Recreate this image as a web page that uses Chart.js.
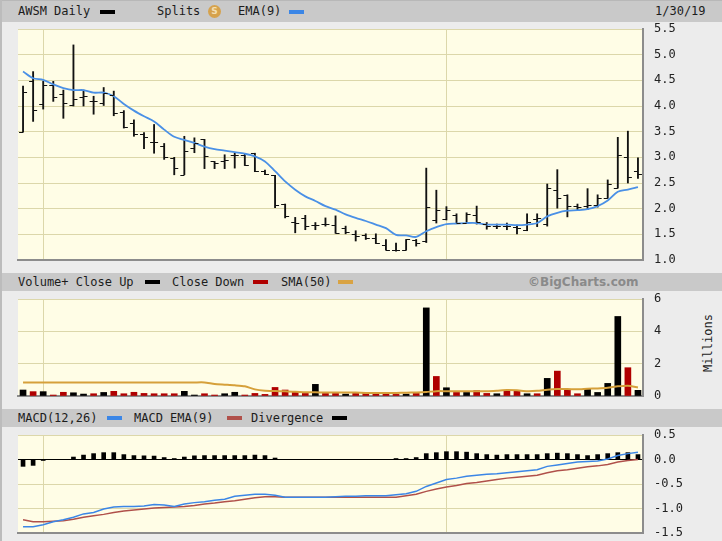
<!DOCTYPE html>
<html lang="en">
  <head>
    <meta charset="UTF-8" />
    <title>AWSM Daily</title>
    <script src="https://cdn.jsdelivr.net/npm/chart.js"></script>
    <style>
      body {
        margin: 0;
        width: 722px;
        height: 541px;
        position: relative;
        overflow: hidden;
        background: #ececec;
        font-family: "DejaVu Sans Mono", monospace;
      }
      .bar {
        position: absolute;
        left: 0;
        width: 722px;
        background: #c9c9c9;
      }
      .lbl {
        position: absolute;
        font-size: 12px;
        color: #1c1c1c;
        white-space: pre;
      }
      .sw {
        position: absolute;
        width: 15px;
        height: 4px;
      }
      canvas {
        position: absolute;
        left: 0;
      }
    </style>
  </head>
  <body>
    <div class="bar" style="top: 0; height: 21px; border-top: 1px solid #b8b8b8">
      <span class="lbl" style="left: 18px; top: 3px">AWSM Daily</span>
      <span class="sw" style="left: 100px; top: 9px; background: #000"></span>
      <span class="lbl" style="left: 157px; top: 3px">Splits</span>
      <span
        style="position: absolute; left: 208px; top: 4px; width: 13px; height: 13px; border-radius: 50%; background: #d6a24c; color: #f3dfb2; font: bold 9px 'DejaVu Sans'; text-align: center; line-height: 13px"
        >S</span
      >
      <span class="lbl" style="left: 238px; top: 3px">EMA(9)</span>
      <span class="sw" style="left: 289px; top: 9px; background: #3b86e6"></span>
      <span class="lbl" style="left: 655px; top: 3px">1/30/19</span>
    </div>

    <div class="bar" style="top: 273px; height: 18px">
      <span class="lbl" style="left: 18px; top: 2px">Volume+ Close Up</span>
      <span class="sw" style="left: 145px; top: 7px; background: #000"></span>
      <span class="lbl" style="left: 172px; top: 2px">Close Down</span>
      <span class="sw" style="left: 253px; top: 7px; background: #b00000"></span>
      <span class="lbl" style="left: 281px; top: 2px">SMA(50)</span>
      <span class="sw" style="left: 338px; top: 7px; background: #d9a343"></span>
      <span
        style="position: absolute; left: 528px; top: 2px; font: bold 12px 'DejaVu Sans'; color: #8a8a8a"
        >©BigCharts.com</span
      >
    </div>

    <div class="bar" style="top: 409px; height: 18px">
      <span class="lbl" style="left: 18px; top: 2px">MACD(12,26)</span>
      <span class="sw" style="left: 107px; top: 7px; background: #3b86e6"></span>
      <span class="lbl" style="left: 134px; top: 2px">MACD EMA(9)</span>
      <span class="sw" style="left: 227px; top: 7px; background: #b0504a"></span>
      <span class="lbl" style="left: 251px; top: 2px">Divergence</span>
      <span class="sw" style="left: 332px; top: 7px; background: #000"></span>
    </div>

    <!-- thin frame on the left edge -->
    <div style="position: absolute; left: 0; top: 0; width: 2px; height: 541px; background: #bcbcbc"></div>

    <span
      class="lbl"
      style="left: 679px; top: 336px; width: 58px; text-align: center; transform: rotate(-90deg)"
      >Millions</span
    >

    <canvas id="price" width="722" height="260" style="top: 14px"></canvas>
    <canvas id="volume" width="722" height="113" style="top: 291px"></canvas>
    <canvas id="macd" width="722" height="114" style="top: 427px"></canvas>

    <script>
      // trading days shown (10/30/18 .. 1/30/19)
      const dates = [
        "10/30/18", "10/31/18",
        "11/1/18", "11/2/18", "11/5/18", "11/6/18", "11/7/18", "11/8/18", "11/9/18",
        "11/12/18", "11/13/18", "11/14/18", "11/15/18", "11/16/18", "11/19/18", "11/20/18",
        "11/21/18", "11/23/18", "11/26/18", "11/27/18", "11/28/18", "11/29/18", "11/30/18",
        "12/3/18", "12/4/18", "12/6/18", "12/7/18", "12/10/18", "12/11/18", "12/12/18",
        "12/13/18", "12/14/18", "12/17/18", "12/18/18", "12/19/18", "12/20/18", "12/21/18",
        "12/24/18", "12/26/18", "12/27/18", "12/28/18", "12/31/18",
        "1/2/19", "1/3/19", "1/4/19", "1/7/19", "1/8/19", "1/9/19", "1/10/19", "1/11/19",
        "1/14/19", "1/15/19", "1/16/19", "1/17/19", "1/18/19", "1/22/19", "1/23/19",
        "1/24/19", "1/25/19", "1/28/19", "1/29/19", "1/30/19",
      ];
      const gridDates = ["11/1/18", "1/2/19"];

      const openPrice = [
        3.49, 4.48, 4.04, 4.4, 4.23, 4.01, 4.18, 4.09, 4.06, 4.22, 3.88, 3.67, 3.45, 3.3, 3.22, 2.98,
        2.66, 3.18, 3.35, 2.92, 2.92, 3.05, 3.05, 3.08, 2.73, 2.65, 2.09, 1.75, 1.82, 1.69, 1.7,
        1.69, 1.62, 1.51, 1.48, 1.43, 1.3, 1.2, 1.19, 1.38, 1.37, 1.78, 1.8, 1.87, 1.73, 1.88,
        1.7, 1.66, 1.67, 1.64, 1.59, 1.8, 1.71, 2.37, 2.26, 2.05, 2.05, 2.08, 2.21, 2.41, 3.0, 2.73,
      ];
      const highPrice = [
        4.39, 4.67, 4.48, 4.48, 4.31, 5.19, 4.31, 4.19, 4.36, 4.29, 3.91, 3.73, 3.48, 3.64, 3.27, 3.0,
        3.41, 3.38, 3.35, 2.92, 3.05, 3.08, 3.07, 3.08, 2.75, 2.65, 2.09, 1.83, 1.87, 1.73, 1.82,
        1.86, 1.66, 1.57, 1.51, 1.51, 1.4, 1.33, 1.4, 1.4, 2.79, 2.36, 2.04, 1.9, 1.92, 2.05,
        1.73, 1.7, 1.72, 1.68, 1.9, 1.9, 2.48, 2.76, 2.27, 2.09, 2.39, 2.27, 2.56, 3.39, 3.51, 2.99,
      ];
      const lowPrice = [
        3.49, 3.7, 3.94, 4.09, 3.76, 4.0, 4.0, 3.84, 4.01, 3.81, 3.57, 3.41, 3.17, 3.08, 2.96, 2.66,
        2.66, 3.09, 2.78, 2.78, 2.78, 2.79, 2.84, 2.72, 2.66, 2.02, 1.82, 1.53, 1.59, 1.59, 1.66,
        1.52, 1.51, 1.37, 1.4, 1.32, 1.19, 1.17, 1.19, 1.27, 1.34, 1.72, 1.78, 1.71, 1.71, 1.7,
        1.6, 1.61, 1.59, 1.51, 1.57, 1.65, 1.66, 2.01, 1.84, 1.98, 1.98, 2.03, 2.2, 2.4, 2.5, 2.59,
      ];
      const closePrice = [
        4.28, 3.93, 4.41, 4.18, 4.06, 4.14, 4.2, 4.1, 4.25, 3.86, 3.6, 3.45, 3.4, 3.3, 3.0, 2.8,
        3.13, 3.28, 3.02, 2.89, 2.95, 3.05, 2.86, 2.73, 2.68, 2.07, 1.85, 1.72, 1.66, 1.69, 1.7,
        1.53, 1.54, 1.46, 1.43, 1.34, 1.2, 1.2, 1.4, 1.34, 2.04, 1.98, 1.98, 1.73, 1.9, 1.74,
        1.66, 1.66, 1.67, 1.62, 1.74, 1.82, 2.4, 2.21, 2.05, 2.03, 2.08, 2.21, 2.48, 3.04, 2.61, 2.67,
      ];
      const ema9 = [
        4.67, 4.54, 4.51, 4.42, 4.35, 4.31, 4.31, 4.26, 4.26, 4.19, 4.04, 3.91, 3.8, 3.7, 3.54, 3.4,
        3.34, 3.28, 3.21, 3.16, 3.13, 3.1, 3.07, 3.02, 2.92, 2.73, 2.53, 2.37, 2.24, 2.15, 2.05,
        1.98, 1.89, 1.82, 1.76, 1.69, 1.62, 1.49, 1.48, 1.45, 1.56, 1.64, 1.7, 1.71, 1.72, 1.72,
        1.69, 1.69, 1.69, 1.68, 1.69, 1.72, 1.85, 1.92, 1.96, 1.97, 1.99, 2.05, 2.16, 2.33, 2.37, 2.42,
      ];

      // volume in millions, 1 = close up (black), 0 = close down (red)
      const volume = [
        0.37, 0.27, 0.27, 0.06, 0.23, 0.2, 0.12, 0.14, 0.22, 0.29, 0.14, 0.23, 0.16, 0.14, 0.14, 0.14,
        0.29, 0.06, 0.14, 0.06, 0.14, 0.23, 0.06, 0.16, 0.1, 0.53, 0.37, 0.23, 0.16, 0.72, 0.16,
        0.16, 0.12, 0.16, 0.16, 0.16, 0.16, 0.1, 0.12, 0.16, 5.45, 1.21, 0.51, 0.22, 0.22, 0.33,
        0.16, 0.14, 0.29, 0.29, 0.14, 0.14, 1.09, 1.54, 0.41, 0.14, 0.41, 0.22, 0.78, 4.92, 1.75, 0.35,
      ];
      const closeUp = [
        1, 0, 1, 0, 0, 1, 1, 0, 1, 0, 0, 0, 0, 0, 0, 0,
        1, 1, 0, 0, 1, 1, 0, 0, 0, 0, 0, 0, 0, 1, 0,
        0, 1, 0, 0, 0, 0, 0, 1, 0, 1, 0, 1, 0, 1, 0,
        0, 1, 0, 0, 1, 0, 1, 0, 0, 0, 1, 1, 1, 1, 0, 1,
      ];
      const volumeSma50 = [
        0.84, 0.84, 0.84, 0.84, 0.84, 0.84, 0.84, 0.84, 0.84, 0.84, 0.84, 0.84, 0.84, 0.84, 0.84, 0.84,
        0.84, 0.84, 0.84, 0.74, 0.7, 0.66, 0.6, 0.41, 0.33, 0.31, 0.29, 0.27, 0.23, 0.23, 0.21,
        0.21, 0.21, 0.21, 0.19, 0.19, 0.19, 0.19, 0.2, 0.22, 0.25, 0.3, 0.3, 0.3, 0.3, 0.3,
        0.3, 0.33, 0.37, 0.35, 0.3, 0.32, 0.39, 0.43, 0.43, 0.41, 0.45, 0.47, 0.51, 0.6, 0.64, 0.53,
      ];

      const macdLine = [
        -1.37, -1.37, -1.33, -1.27, -1.23, -1.18, -1.11, -1.08, -1.01, -0.97, -0.96, -0.96, -0.95,
        -0.92, -0.93, -0.96, -0.91, -0.88, -0.86, -0.83, -0.81, -0.75, -0.73, -0.71, -0.71, -0.73,
        -0.77, -0.77, -0.77, -0.77, -0.77, -0.76, -0.75, -0.75, -0.74, -0.74, -0.74, -0.72, -0.7,
        -0.65, -0.55, -0.48, -0.41, -0.38, -0.34, -0.32, -0.3, -0.29, -0.27, -0.25, -0.23, -0.21,
        -0.14, -0.11, -0.08, -0.05, -0.04, -0.03, 0.01, 0.08, 0.12, 0.15,
      ];
      const macdSignal = [
        -1.23, -1.27, -1.27, -1.26, -1.25, -1.22, -1.18, -1.15, -1.12, -1.08, -1.05, -1.03, -1.01,
        -0.99, -0.98, -0.97, -0.96, -0.94, -0.91, -0.89, -0.86, -0.84, -0.81, -0.78, -0.76, -0.76,
        -0.77, -0.77, -0.77, -0.77, -0.77, -0.77, -0.77, -0.77, -0.77, -0.77, -0.77, -0.77, -0.74,
        -0.71, -0.65, -0.6, -0.56, -0.53, -0.49, -0.47, -0.44, -0.41, -0.38, -0.36, -0.34, -0.32,
        -0.27, -0.23, -0.21, -0.18, -0.15, -0.13, -0.1, -0.05, -0.02, 0.0,
      ];
      const divergence = [
        -0.14, -0.12, -0.02, 0, 0, 0.05, 0.09, 0.12, 0.14, 0.14, 0.1, 0.08, 0.075, 0.07, 0.04, 0.02,
        0.05, 0.075, 0.08, 0.08, 0.08, 0.08, 0.08, 0.09, 0.08, 0.03, 0, 0, 0, 0, 0,
        0, 0, 0, 0, 0, 0, 0.02, 0.02, 0.04, 0.12, 0.14, 0.16, 0.16, 0.15, 0.12,
        0.1, 0.09, 0.1, 0.1, 0.1, 0.1, 0.12, 0.13, 0.12, 0.1, 0.08, 0.1, 0.12, 0.14, 0.14, 0.1,
      ];

      const priceRange = [1.0, 5.5];
      const volumeRange = [0, 6];
      const macdRange = [-1.5, 0.5];

      const plotBg = "#fffde6";
      const gridTan = "#dcd7aa";
      const frame = "#8c8c8c";
      const tickFont = { family: "DejaVu Sans Mono", size: 12 };
      const gridIdx = gridDates.map((d) => dates.indexOf(d));

      const plotBackground = {
        id: "plotBackground",
        beforeDraw(chart) {
          const { ctx, chartArea: a } = chart;
          ctx.save();
          ctx.fillStyle = plotBg;
          ctx.fillRect(a.left, a.top, a.right - a.left, a.bottom - a.top);
          ctx.restore();
        },
      };

      // open tick left, close tick right of each high-low bar
      const ohlcTicks = {
        id: "ohlcTicks",
        afterDatasetsDraw(chart) {
          const ctx = chart.ctx;
          const y = chart.scales.y;
          const bars = chart.getDatasetMeta(0).data;
          ctx.save();
          ctx.strokeStyle = "#111";
          ctx.lineWidth = 1.2;
          ctx.beginPath();
          bars.forEach((bar, i) => {
            const x = bar.x;
            const yo = Math.round(y.getPixelForValue(openPrice[i])) + 0.5;
            const yc = Math.round(y.getPixelForValue(closePrice[i])) + 0.5;
            ctx.moveTo(x - 4, yo);
            ctx.lineTo(x, yo);
            ctx.moveTo(x, yc);
            ctx.lineTo(x + 4, yc);
          });
          ctx.stroke();
          ctx.restore();
        },
      };

      function xAxis() {
        return {
          type: "category",
          offset: true,
          grid: {
            offset: false,
            drawTicks: false,
            color: (c) => (gridIdx.includes(c.index) ? gridTan : "rgba(0,0,0,0)"),
          },
          ticks: { display: false },
          border: { color: frame, width: 2 },
          afterFit: (s) => {
            s.height = 0;
          },
        };
      }

      // label gap comes from an invisible tick mark so ticks.padding stays 0
      function yAxis(range, step, fmt, gridColor) {
        return {
          position: "right",
          min: range[0],
          max: range[1],
          ticks: { stepSize: step, padding: 0, color: "#222", font: tickFont, callback: fmt },
          grid: {
            drawTicks: true,
            tickLength: 11,
            tickColor: "rgba(0,0,0,0)",
            color: gridColor || gridTan,
          },
          border: { color: frame, width: 2 },
          afterFit: (s) => {
            s.width = 79;
          },
        };
      }

      const common = {
        responsive: false,
        animation: false,
        plugins: { legend: { display: false }, tooltip: { enabled: false } },
      };

      new Chart(document.getElementById("price"), {
        type: "bar",
        data: {
          labels: dates,
          datasets: [
            {
              label: "AWSM Daily",
              data: dates.map((d, i) => [lowPrice[i], highPrice[i]]),
              backgroundColor: "#111",
              barThickness: 1.2,
              order: 2,
            },
            {
              type: "line",
              label: "EMA(9)",
              data: ema9,
              borderColor: "#4a90e6",
              borderWidth: 1.8,
              pointRadius: 0,
              tension: 0.3,
              order: 1,
            },
          ],
        },
        options: {
          ...common,
          layout: { padding: { left: 18, top: 15, bottom: 14, right: 0 } },
          scales: { x: xAxis(), y: yAxis(priceRange, 0.5, (v) => v.toFixed(1)) },
        },
        plugins: [plotBackground, ohlcTicks],
      });

      new Chart(document.getElementById("volume"), {
        type: "bar",
        data: {
          labels: dates,
          datasets: [
            {
              type: "line",
              label: "SMA(50)",
              data: volumeSma50,
              borderColor: "#d6a03a",
              borderWidth: 2,
              pointRadius: 0,
              tension: 0.2,
              order: 1,
            },
            {
              label: "Volume",
              data: volume,
              backgroundColor: closeUp.map((u) => (u ? "#000" : "#b00000")),
              barThickness: 6,
              order: 2,
            },
          ],
        },
        options: {
          ...common,
          layout: { padding: { left: 18, top: 8, bottom: 8, right: 0 } },
          scales: { x: xAxis(), y: yAxis(volumeRange, 2, (v) => String(v)) },
        },
        plugins: [plotBackground],
      });

      new Chart(document.getElementById("macd"), {
        type: "bar",
        data: {
          labels: dates,
          datasets: [
            {
              type: "line",
              label: "MACD(12,26)",
              data: macdLine,
              borderColor: "#3b86e6",
              borderWidth: 1.5,
              pointRadius: 0,
              order: 1,
            },
            {
              type: "line",
              label: "MACD EMA(9)",
              data: macdSignal,
              borderColor: "#b0504a",
              borderWidth: 1.5,
              pointRadius: 0,
              order: 1,
            },
            {
              label: "Divergence",
              data: divergence,
              backgroundColor: "#000",
              barThickness: 4,
              order: 2,
            },
          ],
        },
        options: {
          ...common,
          layout: { padding: { left: 18, top: 8, bottom: 8, right: 0 } },
          scales: {
            x: xAxis(),
            y: yAxis(macdRange, 0.5, (v) => v.toFixed(1), (c) =>
              c.tick && c.tick.value === 0 ? "#000" : gridTan
            ),
          },
        },
        plugins: [plotBackground],
      });
    </script>
  </body>
</html>
